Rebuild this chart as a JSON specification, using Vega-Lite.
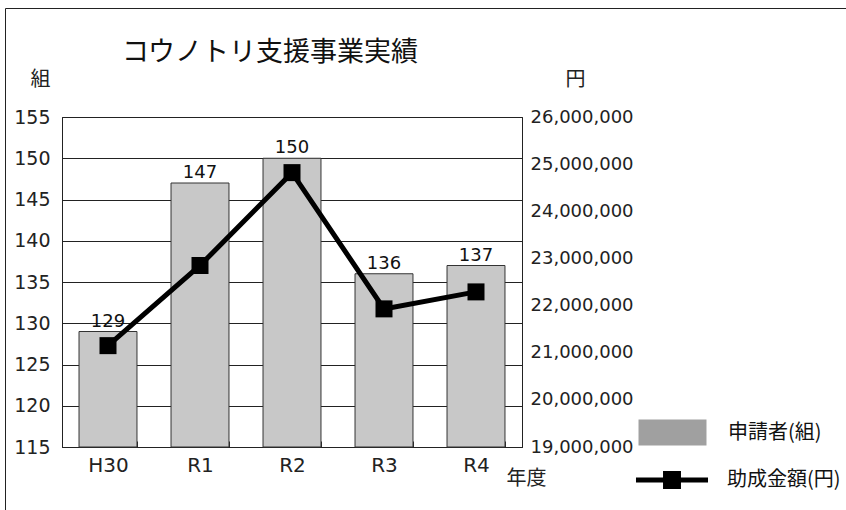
{
  "$schema": "https://vega.github.io/schema/vega-lite/v6.json",
  "width": 460,
  "height": 330,
  "autosize": {"type": "none"},
  "padding": {"left": 62, "top": 117, "right": 324, "bottom": 63},
  "background": "white",
  "config": {
    "font": "DejaVu Sans",
    "view": {"stroke": "#222", "strokeWidth": 1},
    "legend": {
      "orient": "none",
      "legendX": 597,
      "title": null,
      "padding": 0,
      "labelOffset": 42,
      "labelFontSize": 20,
      "labelFont": "Noto Sans CJK JP",
      "labelColor": "#111",
      "symbolSize": 676,
      "symbolOpacity": 1
    }
  },
  "title": {
    "text": "コウノトリ支援事業実績",
    "anchor": "start",
    "frame": "group",
    "dx": 60,
    "offset": -59,
    "font": "Noto Sans CJK JP",
    "fontSize": 27,
    "fontWeight": "normal",
    "color": "#111"
  },
  "data": {
    "values": [
      {"year": "H30", "count": 129, "amount": 21150000},
      {"year": "R1", "count": 147, "amount": 22850000},
      {"year": "R2", "count": 150, "amount": 24820000},
      {"year": "R3", "count": 136, "amount": 21930000},
      {"year": "R4", "count": 137, "amount": 22290000}
    ]
  },
  "encoding": {
    "x": {
      "field": "year",
      "type": "nominal",
      "sort": null,
      "scale": {"paddingInner": 0.37, "paddingOuter": 0.185},
      "axis": {
        "labelAngle": 0,
        "labelFontSize": 20,
        "labelColor": "#222",
        "labelPadding": 14,
        "domainColor": "#222",
        "ticks": true,
        "tickBand": "extent",
        "tickSize": -6,
        "tickColor": "#222",
        "title": "年度",
        "titleFont": "Noto Sans CJK JP",
        "titleFontSize": 20,
        "titleFontWeight": "normal",
        "titleColor": "#222",
        "titleX": 464,
        "titleY": 31,
        "titleAlign": "center",
        "titleBaseline": "middle"
      }
    }
  },
  "layer": [
    {
      "layer": [
        {
          "mark": {"type": "bar", "color": "#c8c8c8", "stroke": "#333", "strokeWidth": 1},
          "encoding": {
            "y": {
              "field": "count",
              "type": "quantitative",
              "scale": {"domain": [115, 155]},
              "axis": {
                "orient": "left",
                "values": [115, 120, 125, 130, 135, 140, 145, 150, 155],
                "grid": true,
                "gridColor": "#222",
                "gridWidth": 1,
                "ticks": false,
                "domainColor": "#222",
                "labelFontSize": 19,
                "labelColor": "#222",
                "labelPadding": 12,
                "title": "組",
                "titleFont": "Noto Sans CJK JP",
                "titleAngle": 0,
                "titleX": -22,
                "titleY": -38,
                "titleAlign": "center",
                "titleBaseline": "middle",
                "titleFontSize": 20,
                "titleFontWeight": "normal",
                "titleColor": "#222"
              }
            },
            "y2": {"datum": 115}
          }
        },
        {
          "data": {"values": []},
          "mark": {"type": "point", "filled": true, "color": "#a0a0a0", "stroke": "#333333", "strokeWidth": 1},
          "encoding": {
            "opacity": {
              "datum": "申請者(組)",
              "type": "nominal",
              "scale": {"range": [1, 1]},
              "legend": {
                "legendY": 302,
                "symbolType": "M-2.615,-1H2.615V1H-2.615Z",
                "symbolFillColor": "#a0a0a0",
                "symbolStrokeColor": "#333333",
                "symbolStrokeWidth": 1
              }
            }
          }
        },
        {
          "mark": {"type": "text", "baseline": "bottom", "dy": -1, "color": "#111"},
          "encoding": {
            "y": {"field": "count", "type": "quantitative"},
            "text": {"field": "count", "type": "quantitative"},
            "size": {
              "datum": "枠",
              "type": "nominal",
              "scale": {"range": [18, 18]},
              "legend": {
                "legendX": -57,
                "legendY": -109,
                "padding": 470,
                "strokeColor": "#222222",
                "symbolOpacity": 0,
                "labelOpacity": 0,
                "labelFontSize": 1,
                "symbolSize": 1
              }
            }
          }
        }
      ]
    },
    {
      "layer": [
        {
          "mark": {"type": "line", "color": "#000000", "strokeWidth": 5}
        },
        {
          "mark": {"type": "point", "shape": "square", "color": "#000000", "filled": true, "size": 289},
          "encoding": {
            "opacity": {
              "datum": "助成金額(円)",
              "type": "nominal",
              "scale": {"range": [1, 1]},
              "legend": {
                "legendY": 350,
                "symbolType": "M-2.77,-0.19H2.77V0.19H-2.77Z M-0.69,-0.69H0.69V0.69H-0.69Z",
                "symbolFillColor": "#000000",
                "symbolStrokeColor": "#000000",
                "symbolStrokeWidth": 0
              }
            }
          }
        }
      ],
      "encoding": {
        "y": {
          "field": "amount",
          "type": "quantitative",
          "scale": {"domain": [19000000, 26000000]},
          "axis": {
            "orient": "right",
            "values": [19000000, 20000000, 21000000, 22000000, 23000000, 24000000, 25000000, 26000000],
            "format": ",d",
            "grid": false,
            "ticks": false,
            "domainColor": "#222",
            "labelFontSize": 18,
            "labelColor": "#222",
            "labelPadding": 8,
            "title": "円",
            "titleFont": "Noto Sans CJK JP",
            "titleAngle": 0,
            "titleX": 53,
            "titleY": -38,
            "titleAlign": "center",
            "titleBaseline": "middle",
            "titleFontSize": 20,
            "titleFontWeight": "normal",
            "titleColor": "#222"
          }
        }
      }
    }
  ],
  "resolve": {
    "scale": {"y": "independent", "opacity": "independent"},
    "legend": {"opacity": "independent"}
  }
}
